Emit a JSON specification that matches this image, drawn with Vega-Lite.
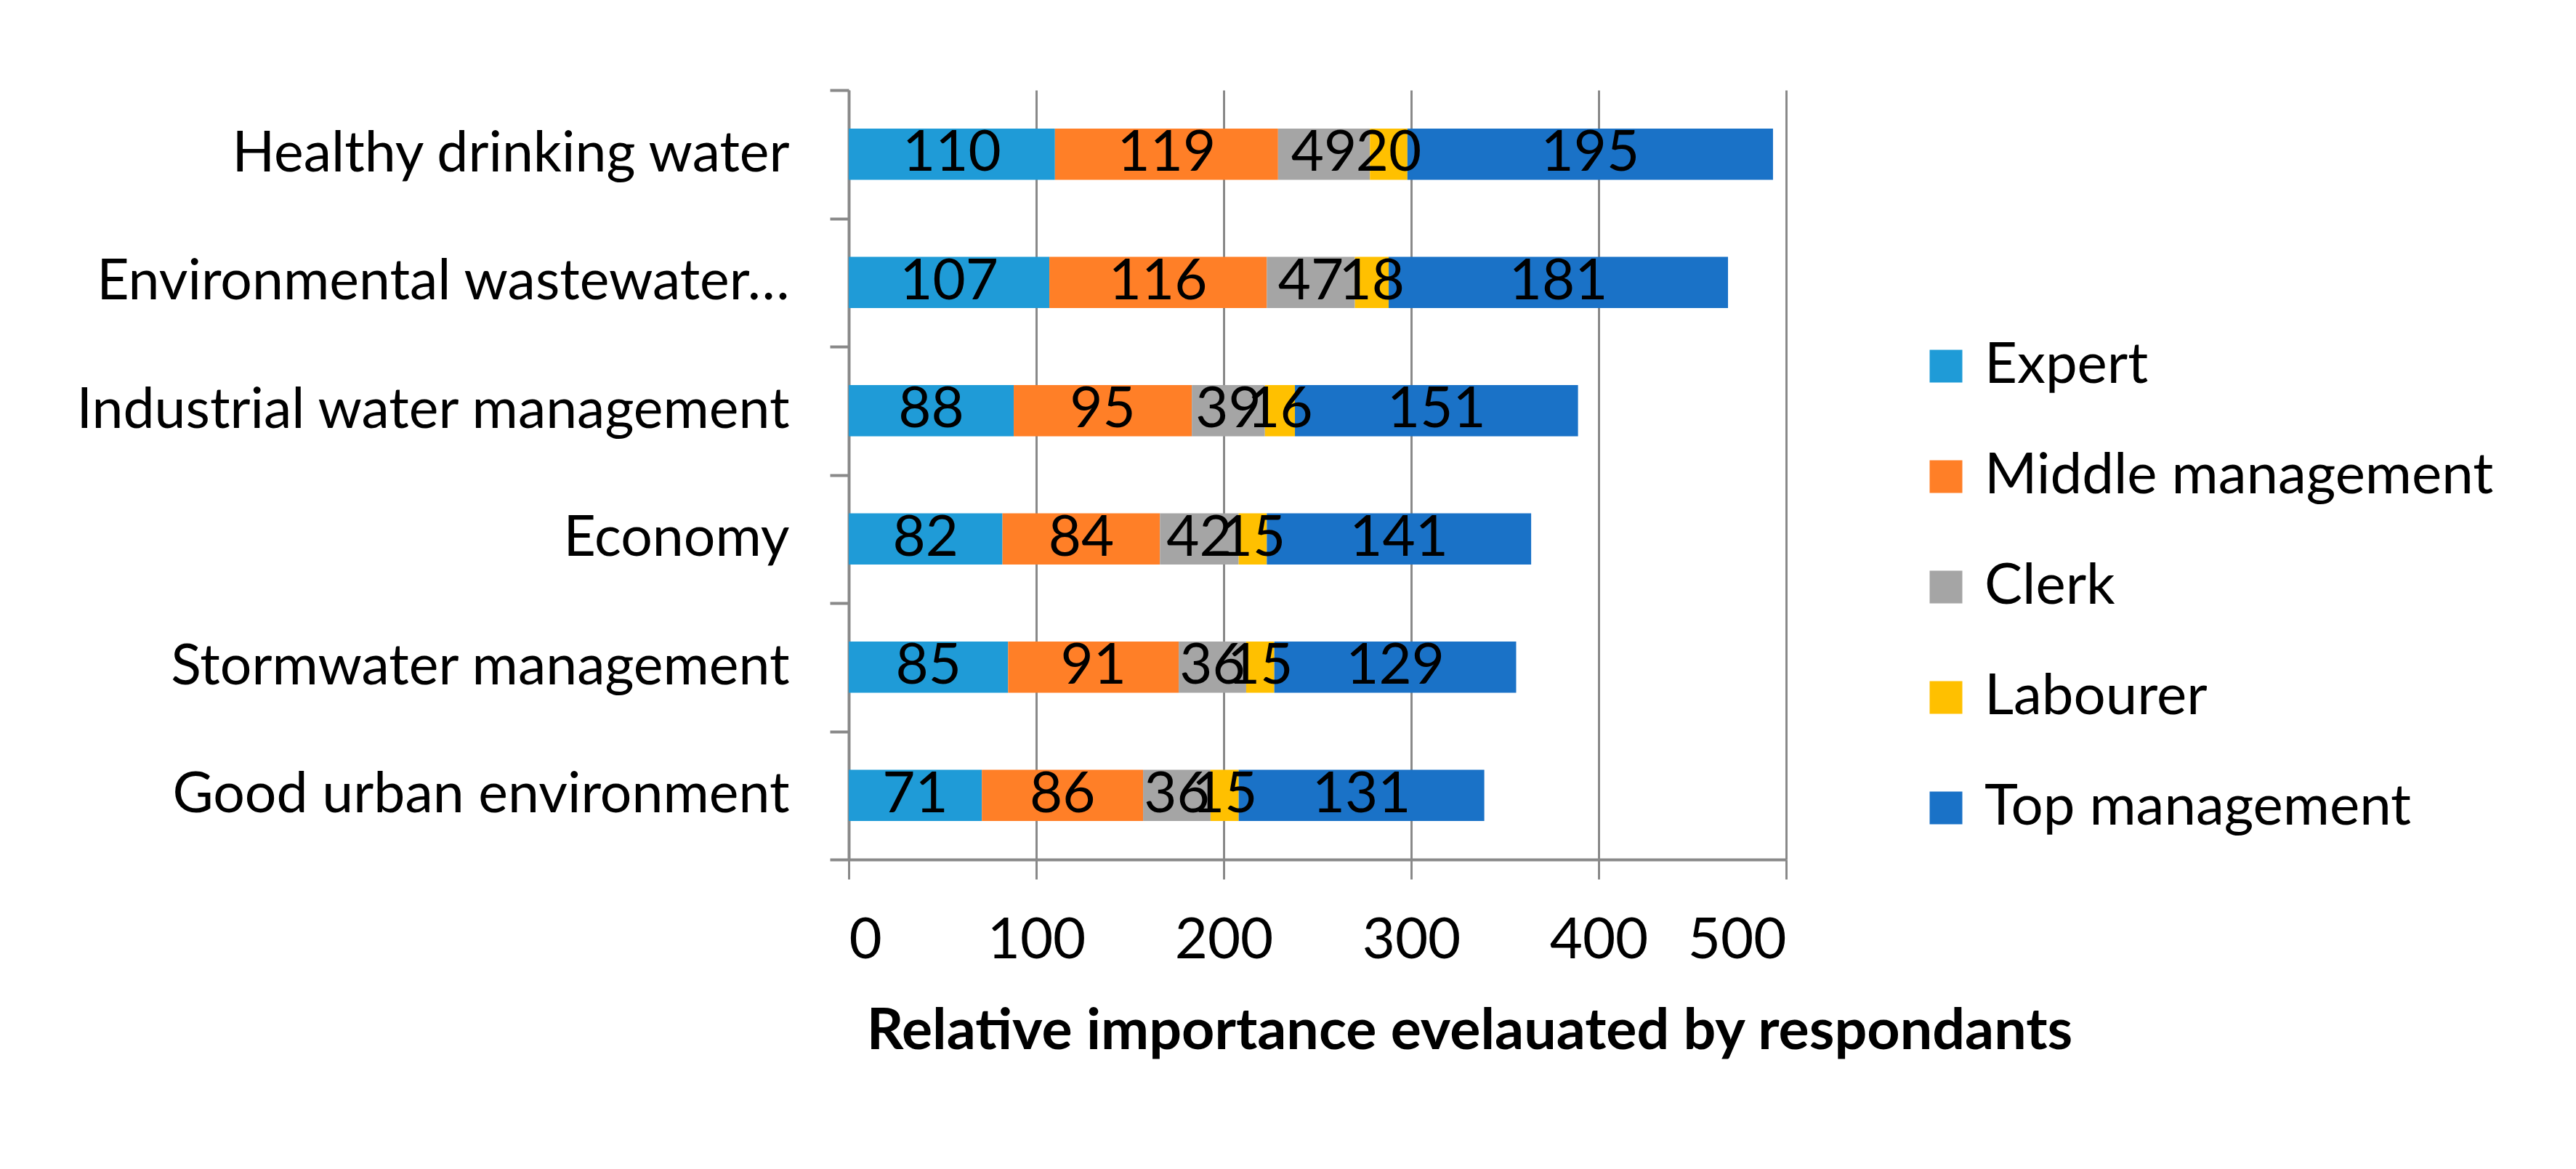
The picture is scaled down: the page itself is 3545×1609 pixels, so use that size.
{
  "$schema": "https://vega.github.io/schema/vega-lite/v6.json",
  "autosize": {"type": "none"},
  "padding": {"left": 1168, "top": 124, "right": 1087, "bottom": 426},
  "width": 1290,
  "height": 1059,
  "background": "white",
  "config": {
    "font": "Lato",
    "view": {"stroke": null}
  },
  "data": {
    "values": [
      {"topic": "Healthy drinking water", "role": "Expert", "k": 1, "value": 110},
      {"topic": "Healthy drinking water", "role": "Middle management", "k": 2, "value": 119},
      {"topic": "Healthy drinking water", "role": "Clerk", "k": 3, "value": 49},
      {"topic": "Healthy drinking water", "role": "Labourer", "k": 4, "value": 20},
      {"topic": "Healthy drinking water", "role": "Top management", "k": 5, "value": 195},
      {"topic": "Environmental wastewater…", "role": "Expert", "k": 1, "value": 107},
      {"topic": "Environmental wastewater…", "role": "Middle management", "k": 2, "value": 116},
      {"topic": "Environmental wastewater…", "role": "Clerk", "k": 3, "value": 47},
      {"topic": "Environmental wastewater…", "role": "Labourer", "k": 4, "value": 18},
      {"topic": "Environmental wastewater…", "role": "Top management", "k": 5, "value": 181},
      {"topic": "Industrial water management", "role": "Expert", "k": 1, "value": 88},
      {"topic": "Industrial water management", "role": "Middle management", "k": 2, "value": 95},
      {"topic": "Industrial water management", "role": "Clerk", "k": 3, "value": 39},
      {"topic": "Industrial water management", "role": "Labourer", "k": 4, "value": 16},
      {"topic": "Industrial water management", "role": "Top management", "k": 5, "value": 151},
      {"topic": "Economy", "role": "Expert", "k": 1, "value": 82},
      {"topic": "Economy", "role": "Middle management", "k": 2, "value": 84},
      {"topic": "Economy", "role": "Clerk", "k": 3, "value": 42},
      {"topic": "Economy", "role": "Labourer", "k": 4, "value": 15},
      {"topic": "Economy", "role": "Top management", "k": 5, "value": 141},
      {"topic": "Stormwater management", "role": "Expert", "k": 1, "value": 85},
      {"topic": "Stormwater management", "role": "Middle management", "k": 2, "value": 91},
      {"topic": "Stormwater management", "role": "Clerk", "k": 3, "value": 36},
      {"topic": "Stormwater management", "role": "Labourer", "k": 4, "value": 15},
      {"topic": "Stormwater management", "role": "Top management", "k": 5, "value": 129},
      {"topic": "Good urban environment", "role": "Expert", "k": 1, "value": 71},
      {"topic": "Good urban environment", "role": "Middle management", "k": 2, "value": 86},
      {"topic": "Good urban environment", "role": "Clerk", "k": 3, "value": 36},
      {"topic": "Good urban environment", "role": "Labourer", "k": 4, "value": 15},
      {"topic": "Good urban environment", "role": "Top management", "k": 5, "value": 131}
    ]
  },
  "encoding": {
    "y": {
      "field": "topic",
      "type": "nominal",
      "sort": ["Healthy drinking water", "Environmental wastewater…", "Industrial water management", "Economy", "Stormwater management", "Good urban environment"],
      "scale": {"paddingInner": 0, "paddingOuter": 0},
      "axis": {
        "title": null,
        "tickBand": "extent",
        "domainColor": "#898989",
        "domainWidth": 4,
        "tickColor": "#898989",
        "tickWidth": 4,
        "tickSize": 26,
        "labelPadding": 56,
        "labelFontSize": 77,
        "labelColor": "#000000",
        "labelLimit": 1200,
        "grid": false
      }
    },
    "x": {
      "field": "value",
      "type": "quantitative",
      "stack": "zero",
      "scale": {"domain": [0, 500], "nice": false},
      "axis": {
        "values": [0, 100, 200, 300, 400, 500],
        "title": "Relative importance evelauated by respondants",
        "titleFontSize": 79,
        "titleFontWeight": "bold",
        "titleColor": "#000000",
        "titleX": 854,
        "titleY": 260,
        "titleBaseline": "alphabetic",
        "domainColor": "#898989",
        "domainWidth": 4,
        "tickColor": "#898989",
        "tickWidth": 3,
        "tickSize": 27,
        "grid": true,
        "gridColor": "#898989",
        "gridWidth": 3,
        "labelFontSize": 78,
        "labelColor": "#000000",
        "labelBaseline": "alphabetic",
        "labelPadding": 108
      }
    },
    "order": {"field": "k", "type": "quantitative"}
  },
  "layer": [
    {
      "mark": {"type": "bar", "height": {"band": 0.4}},
      "encoding": {
        "color": {
          "field": "role",
          "type": "nominal",
          "scale": {
            "domain": ["Expert", "Middle management", "Clerk", "Labourer", "Top management"],
            "range": ["#1F9BD7", "#FF7F27", "#A5A5A5", "#FFC000", "#1A72C7"]
          },
          "legend": {
            "title": null,
            "orient": "none",
            "legendX": 1471,
            "legendY": 341,
            "symbolType": "square",
            "symbolSize": 2025,
            "symbolStrokeWidth": 0,
            "symbolOpacity": 1,
            "labelFontSize": 78,
            "labelColor": "#000000",
            "labelOffset": 14,
            "labelLimit": 1000,
            "rowPadding": 74
          }
        }
      }
    },
    {
      "mark": {"type": "text", "fontSize": 78, "color": "#000000", "baseline": "middle", "align": "center"},
      "encoding": {
        "x": {"field": "value", "type": "quantitative", "stack": "zero", "bandPosition": 0.5},
        "text": {"field": "value", "type": "quantitative"}
      }
    }
  ]
}
